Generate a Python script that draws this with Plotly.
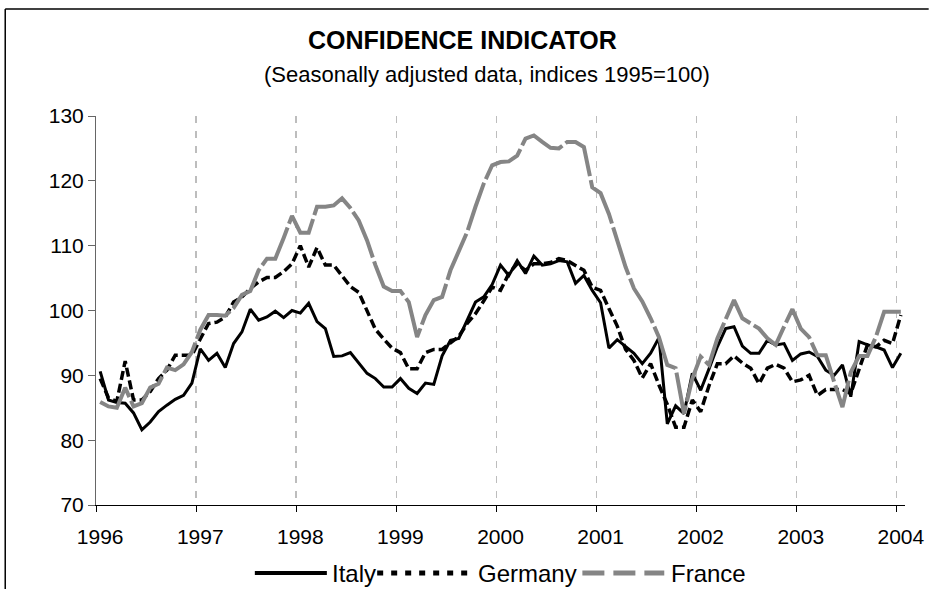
import plotly.graph_objects as go

years = ["1996", "1997", "1998", "1999", "2000", "2001", "2002", "2003", "2004"]
months = list(range(97))  # Jan 1996 .. Jan 2004

italy = [90.6, 86.2, 85.8, 85.7, 84.2, 81.6, 82.8, 84.4, 85.4, 86.3, 86.9, 88.8,
         94.1, 92.3, 93.4, 91.2, 94.9, 96.7, 100.2, 98.5, 99.0, 99.9, 98.9, 100.0,
         99.6, 101.1, 98.3, 97.2, 92.9, 93.0, 93.5, 91.9, 90.3, 89.5, 88.2, 88.2,
         89.5, 88.0, 87.2, 88.8, 88.6, 93.0, 95.4, 95.7, 98.5, 101.3, 102.1, 104.0,
         107.0, 105.4, 107.7, 105.7, 108.4, 107.0, 107.2, 107.7, 107.5, 104.2, 105.4, 103.1,
         101.2, 94.2, 95.5, 94.5, 93.4, 91.8, 93.4, 95.8, 82.5, 85.3, 84.1, 90.3,
         87.7, 91.0, 94.4, 97.2, 97.5, 94.5, 93.4, 93.4, 95.4, 94.7, 94.9, 92.3,
         93.3, 93.6, 92.9, 90.8, 90.0, 91.6, 86.7, 95.2, 94.7, 94.4, 93.9, 91.2,
         93.4]

germany = [89.5, 86.5, 86.0, 92.2, 86.2, 86.2, 87.5, 89.5, 90.8, 93.1, 93.1, 93.1,
           95.6, 98.0, 98.2, 99.0, 101.3, 102.1, 103.4, 104.4, 105.1, 105.1, 106.0, 107.2,
           110.0, 106.7, 109.7, 107.0, 107.0, 105.3, 103.7, 102.8, 99.8, 97.1, 95.6, 94.2,
           93.5, 91.0, 91.0, 93.5, 94.0, 94.0, 95.0, 96.0, 98.0, 99.5, 101.5, 103.6,
           103.1, 105.7, 107.2, 106.2, 107.2, 107.2, 107.4, 108.0, 107.7, 107.0, 106.2, 103.6,
           103.1, 100.3, 97.6, 94.0, 92.3, 89.6, 91.8, 88.5, 85.5, 82.0, 82.0, 86.2,
           84.4, 88.4, 91.8, 91.8, 93.0, 91.9, 91.1, 88.7, 91.1, 91.7, 91.1, 89.0,
           89.3, 90.0, 86.9, 87.8, 87.8, 87.8, 87.2, 90.8, 94.7, 94.4, 95.4, 94.9,
           99.3]

france = [85.9, 85.2, 85.0, 88.1, 85.2, 85.7, 88.1, 88.7, 91.2, 90.8, 91.7, 93.6,
          97.0, 99.3, 99.3, 99.2, 100.4, 102.4, 103.0, 106.2, 108.0, 108.0, 111.2, 114.6,
          112.0, 112.0, 116.0, 116.0, 116.2, 117.3, 115.8, 113.9, 110.8, 107.0, 103.7, 103.0,
          103.0, 101.3, 95.9, 99.3, 101.6, 102.1, 106.2, 109.3, 112.1, 116.0, 119.6, 122.4,
          122.9, 123.0, 123.9, 126.5, 127.0, 126.0, 125.1, 125.0, 126.0, 126.0, 125.2, 119.0,
          118.1, 114.9, 110.8, 106.7, 103.4, 101.4, 98.8, 95.9, 91.6, 91.1, 84.1, 89.5,
          92.9, 91.6, 95.7, 98.5, 101.6, 98.8, 98.0, 97.2, 95.7, 94.7, 97.5, 100.2,
          97.2, 95.9, 93.1, 93.1, 89.0, 85.1, 90.5, 93.0, 93.0, 95.9, 99.8, 99.8,
          99.8]

FONT = "Liberation Sans, Arial, sans-serif"
GRAY = "#858585"

W, H = 936, 589
L, R, T, B = 96, 20, 116, 84
PW, PH = W - L - R, H - T - B


def px(sx):  # screen x -> paper x
    return (sx - L) / PW


def py(sy):  # screen y -> paper y
    return (H - B - sy) / PH


fig = go.Figure()
fig.add_trace(go.Scatter(x=months, y=italy, name="Italy", mode="lines",
                         line=dict(color="black", width=3)))
fig.add_trace(go.Scatter(x=months, y=germany, name="Germany", mode="lines",
                         line=dict(color="black", width=3.5, dash="9px,4px")))
fig.add_trace(go.Scatter(x=months, y=france, name="France", mode="lines",
                         line=dict(color=GRAY, width=4, dash="50px,4px")))

label_pos = [12 * i for i in range(len(years))]
boundary_pos = [12 * i - 0.5 for i in range(len(years))]

# legend drawn as shapes + text to get long Excel-like samples
LEG_Y = 573
legend_items = [
    ("Italy", 257, 330, 333, dict(color="black", width=4)),
    ("Germany", 381, 476, 481, dict(color="black", width=5, dash="6px,8px")),
    ("France", 589, 672, 677, dict(color=GRAY, width=5, dash="22px,9px")),
]
shapes = [
    dict(type="line", xref="paper", yref="paper", x0=px(4), x1=px(4),
         y0=py(600), y1=py(9), line=dict(color="black", width=1.5)),
    dict(type="line", xref="paper", yref="paper", x0=px(4), x1=px(940),
         y0=py(9), y1=py(9), line=dict(color="black", width=1.5)),
]
annotations = [
    dict(text="<b>CONFIDENCE INDICATOR</b>", xref="paper", yref="paper",
         x=px(467), y=py(40), xanchor="center", yanchor="middle",
         showarrow=False, font=dict(size=25, family=FONT)),
    dict(text="(Seasonally adjusted data, indices 1995=100)", xref="paper", yref="paper",
         x=px(492), y=py(75), xanchor="center", yanchor="middle",
         showarrow=False, font=dict(size=22, family=FONT)),
]
for name, x0, x1, tx, ln in legend_items:
    shapes.append(dict(type="line", xref="paper", yref="paper", x0=px(x0), x1=px(x1),
                       y0=py(LEG_Y), y1=py(LEG_Y), line=ln))
    annotations.append(dict(text=name, xref="paper", yref="paper", x=px(tx), y=py(LEG_Y),
                            xanchor="left", yanchor="middle", showarrow=False,
                            font=dict(size=24, family=FONT)))

fig.update_layout(
    width=W, height=H,
    margin=dict(l=L, r=R, t=T, b=B),
    paper_bgcolor="white", plot_bgcolor="white",
    font=dict(family=FONT, size=21, color="black"),
    showlegend=False,
    hovermode=False,
    xaxis=dict(range=[-0.5, 96.5], tickmode="array", tickvals=label_pos, ticktext=years,
               ticks="", showgrid=False, zeroline=False, ticklabelstandoff=13,
               showline=True, linecolor="black", linewidth=1,
               tickfont=dict(size=21),
               minor=dict(tickmode="array", tickvals=boundary_pos, ticks="outside",
                          ticklen=6, tickcolor="black", tickwidth=1,
                          showgrid=True, gridcolor="#bdbdbd", gridwidth=1.5,
                          griddash="7px,8px")),
    yaxis=dict(range=[70, 130], dtick=10, tick0=70, ticks="outside", ticklen=7,
               tickcolor="#666666", showgrid=False, zeroline=False,
               showline=True, linecolor="#666666", linewidth=1,
               tickfont=dict(size=21)),
    annotations=annotations,
    shapes=shapes,
)

fig.write_html("out.html",
               config={"displayModeBar": False, "staticPlot": True},
               post_script="document.body.style.margin='0px';"
                           "document.documentElement.style.overflow='hidden';")
